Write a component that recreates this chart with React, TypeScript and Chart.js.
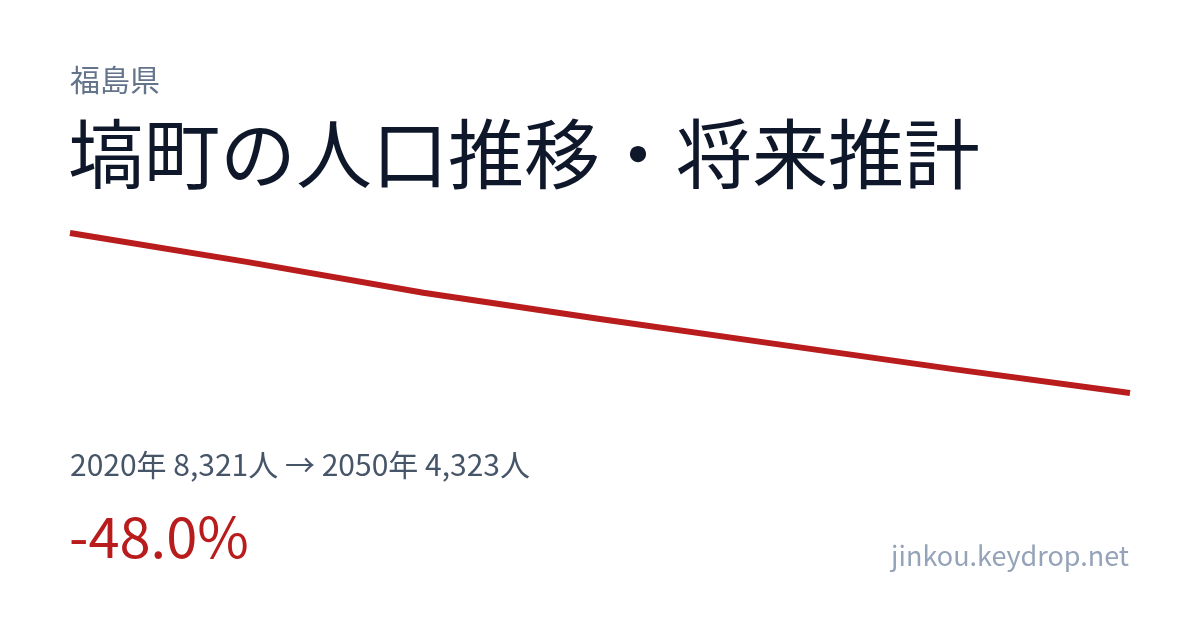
import React, { useEffect, useRef } from "react";
import { Chart, registerables } from "chart.js";

Chart.register(...registerables);

// population by year (2020 actual, rest projected)
const years = ["2020", "2025", "2030", "2035", "2040", "2045", "2050"];
const population = [8321, 7600, 6830, 6170, 5545, 4920, 4323];

const prefecture = "福島県";
const title = "塙町の人口推移・将来推計";
const summary = "2020年 8,321人 → 2050年 4,323人";
const change = "-48.0%";
const site = "jinkou.keydrop.net";

const FONT = '"Noto Sans CJK JP", "Noto Sans", sans-serif';

const textPlugin = {
  id: "ogText",
  afterDraw(chart: Chart) {
    const ctx = chart.ctx;
    ctx.save();
    ctx.textBaseline = "alphabetic";
    ctx.textAlign = "left";

    ctx.fillStyle = "#64748b";
    ctx.font = `30px ${FONT}`;
    ctx.fillText(prefecture, 70, 91);

    ctx.fillStyle = "#0f172a";
    ctx.font = `76px ${FONT}`;
    ctx.fillText(title, 68, 183);

    ctx.fillStyle = "#475569";
    ctx.font = `30px ${FONT}`;
    ctx.fillText(summary, 70, 476);

    ctx.fillStyle = "#b91c1c";
    ctx.font = `56px ${FONT}`;
    ctx.fillText(change, 69, 558);

    ctx.fillStyle = "#94a3b8";
    ctx.font = `27px ${FONT}`;
    ctx.textAlign = "right";
    ctx.fillText(site, 1129, 566);
    ctx.restore();
  },
};

export default function App() {
  const canvasRef = useRef<HTMLCanvasElement | null>(null);

  useEffect(() => {
    const ctx = canvasRef.current?.getContext("2d");
    if (!ctx) return;

    const chart = new Chart(ctx, {
      type: "line",
      data: {
        labels: years,
        datasets: [
          {
            data: population,
            borderColor: "#b91c1c",
            borderWidth: 6,
            pointRadius: 0,
            tension: 0,
            fill: false,
            clip: false,
          },
        ],
      },
      options: {
        animation: false,
        responsive: true,
        maintainAspectRatio: false,
        layout: {
          padding: { left: 70, right: 70, top: 233, bottom: 237 },
        },
        plugins: {
          legend: { display: false },
          tooltip: { enabled: false },
        },
        scales: {
          x: { display: false },
          y: {
            display: false,
            min: Math.min(...population),
            max: Math.max(...population),
          },
        },
      },
      plugins: [textPlugin],
    });

    return () => {
      chart.destroy();
    };
  }, []);

  return (
    <div
      style={{
        position: "fixed",
        left: 0,
        top: 0,
        width: "1200px",
        height: "630px",
        background: "#ffffff",
      }}
    >
      <canvas ref={canvasRef} />
    </div>
  );
}
